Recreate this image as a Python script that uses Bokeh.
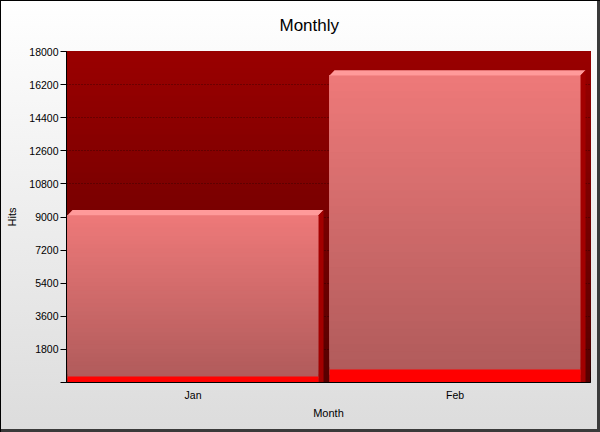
import numpy as np
from bokeh.plotting import figure
from bokeh.models import (ColumnDataSource, FixedTicker, CustomJSTickFormatter,
                          Range1d, InlineStyleSheet)
from bokeh.embed import file_html
from bokeh.resources import INLINE

# ---------------- data ----------------
title_text = "Monthly"
months = ["Jan", "Feb"]
hits = [9100, 16700]
visits = [325, 705]
y_ticks = [0, 1800, 3600, 5400, 7200, 9000, 10800, 12600, 14400, 16200, 18000]
y_tick_labels = ["", "1800", "3600", "5400", "7200", "9000", "10800", "12600",
                 "14400", "16200", "18000"]
y_max = 18000

# ---------------- style helpers ----------------
FONT = "Liberation Sans"


def rgb(h):
    return np.array([int(h[i:i + 2], 16) for i in (1, 3, 5)], dtype=float)


def mix(c_bottom, c_top, t):
    c = rgb(c_bottom) * (1 - t) + rgb(c_top) * t
    return "#%02x%02x%02x" % tuple(int(round(v)) for v in c)


W, H = 600, 432
n = len(months)
p = figure(width=W, height=H, output_backend="svg", toolbar_location=None,
           x_range=Range1d(0, n), y_range=Range1d(0, y_max),
           min_border_left=66, min_border_right=10, min_border_top=50,
           min_border_bottom=50)

p.stylesheets = [InlineStyleSheet(css=""":host {
  background: linear-gradient(to bottom, #ffffff 0%, #dcdcdc 100%);
  box-shadow: inset 1px 1px 0 #000, inset -3px -3px 0 #3a3a3a;
}""")]
p.border_fill_alpha = 0
p.background_fill_color = None
p.outline_line_color = "black"
p.outline_line_width = 1

# frame background gradient (dark red): overlapping strips, no seams
N_BG = 60
bg_edges = np.linspace(0, y_max, N_BG + 1)
bg = ColumnDataSource(dict(
    bottom=bg_edges[:-1], top=[y_max] * N_BG,
    left=[0] * N_BG, right=[n] * N_BG,
    color=[mix("#560000", "#9a0000", (k + 0.5) / N_BG) for k in range(N_BG)]))
p.quad(left="left", right="right", bottom="bottom", top="top", source=bg,
       fill_color="color", line_color=None, level="image")

# bar geometry (in category units)
L_OFF, R_OFF = 0.004, 0.962
DX = 0.019
DY = 275.0
idx = np.arange(n)
lefts = idx + L_OFF
rights = idx + R_OFF

# front faces with vertical gradient (overlapping segments)
N_SEG = 40
fl, fr, fb, ft, fc = [], [], [], [], []
for i in range(n):
    v = hits[i]
    for k in range(N_SEG):
        fl.append(lefts[i]); fr.append(rights[i])
        fb.append(v * k / N_SEG); ft.append(v)
        fc.append(mix("#ae5a5a", "#ee7979", (k + 0.5) / N_SEG))
front = ColumnDataSource(dict(left=fl, right=fr, bottom=fb, top=ft, color=fc))
p.quad(left="left", right="right", bottom="bottom", top="top", source=front,
       fill_color="color", line_color=None)

# top faces
top_xs = [[lefts[i], lefts[i] + DX, rights[i] + DX, rights[i]] for i in range(n)]
top_ys = [[hits[i], hits[i] + DY, hits[i] + DY, hits[i]] for i in range(n)]
p.patches(xs=top_xs, ys=top_ys, fill_color="#ff9a9a", line_color=None)

# side faces
side_xs = [[rights[i], rights[i] + DX, rights[i] + DX, rights[i]] for i in range(n)]
side_ys = [[0, 0, hits[i] + DY, hits[i]] for i in range(n)]
p.patches(xs=side_xs, ys=side_ys, fill_color="#a20000", line_color=None)

# second series (red)
p.quad(left=lefts, right=rights, bottom=[0] * n, top=visits,
       fill_color="#ff0000", line_color=None)

# ---------------- axes ----------------
yticker = FixedTicker(ticks=y_ticks)
p.yaxis.ticker = yticker
p.yaxis.formatter = CustomJSTickFormatter(args=dict(labels=y_tick_labels),
                                          code="return labels[index];")
p.yaxis.axis_label = "Hits"
p.yaxis.major_tick_out = 6
p.yaxis.major_tick_in = 0
p.yaxis.minor_tick_line_color = None
p.yaxis.major_label_standoff = 2
p.yaxis.axis_label_standoff = 8

p.xaxis.ticker = FixedTicker(ticks=list((lefts + rights) / 2))
p.xaxis.formatter = CustomJSTickFormatter(args=dict(labels=months),
                                          code="return labels[index];")
p.xaxis.axis_label = "Month"
p.xaxis.major_tick_out = 0
p.xaxis.major_tick_in = 0
p.xaxis.minor_tick_line_color = None
p.xaxis.major_label_standoff = 6
p.xaxis.axis_label_standoff = 3

for ax in (p.xaxis, p.yaxis):
    ax.axis_line_color = "black"
    ax.major_tick_line_color = "black"
    ax.major_label_text_font = FONT
    ax.major_label_text_font_size = "10.5px"
    ax.major_label_text_color = "black"
    ax.axis_label_text_font = FONT
    ax.axis_label_text_font_size = "11px"
    ax.axis_label_text_font_style = "normal"
    ax.axis_label_text_color = "black"

p.xgrid.grid_line_color = None
p.ygrid.ticker = yticker
p.ygrid.grid_line_color = "black"
p.ygrid.grid_line_dash = "1 2"
p.ygrid.grid_line_alpha = 0.5

# ---------------- title ----------------
p.title.text = title_text
p.title.align = "left"
p.title.offset = 213
p.title.vertical_align = "top"
p.title.text_font = FONT
p.title.text_font_size = "17px"
p.title.text_font_style = "normal"
p.title.text_color = "black"
p.title.standoff = 30

open("out.html", "w").write(file_html(p, INLINE))
